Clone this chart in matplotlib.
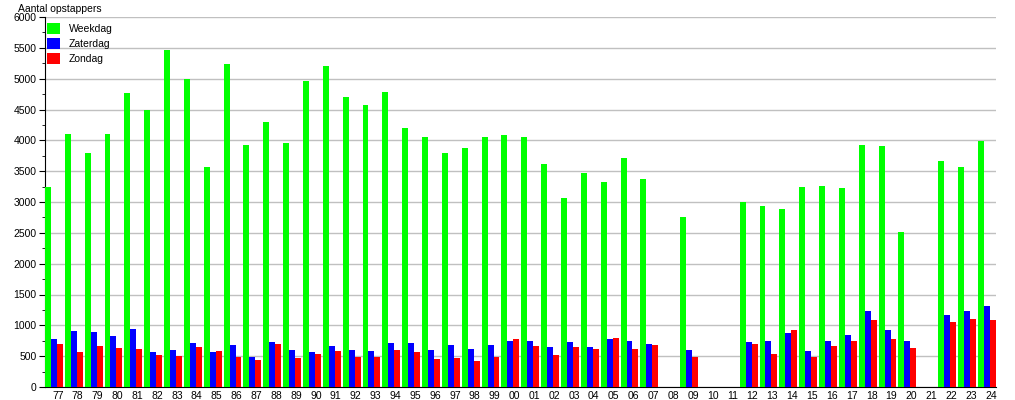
import numpy as np
import matplotlib
matplotlib.use("Agg")
import matplotlib.pyplot as plt
from matplotlib.ticker import MultipleLocator

plt.rcParams['font.family'] = ['Liberation Sans', 'DejaVu Sans']

years = ['77', '78', '79', '80', '81', '82', '83', '84', '85', '86', '87', '88',
         '89', '90', '91', '92', '93', '94', '95', '96', '97', '98', '99', '00',
         '01', '02', '03', '04', '05', '06', '07', '08', '09', '10', '11', '12',
         '13', '14', '15', '16', '17', '18', '19', '20', '21', '22', '23', '24']

nan = np.nan
weekdag = [3250, 4100, 3800, 4100, 4760, 4500, 5470, 5000, 3560, 5240, 3930, 4300,
           3950, 4970, 5200, 4700, 4580, 4780, 4200, 4060, 3800, 3870, 4060, 4080,
           4060, 3610, 3060, 3470, 3320, 3720, 3380, nan, 2750, nan, nan, 3000,
           2940, 2890, 3250, 3260, 3230, 3930, 3910, 2520, nan, 3660, 3560, 3990]
zaterdag = [780, 910, 890, 830, 940, 570, 600, 710, 570, 680, 490, 730,
            600, 570, 670, 600, 580, 710, 710, 600, 680, 620, 680, 750,
            750, 650, 730, 650, 780, 750, 700, nan, 600, nan, nan, 730,
            750, 880, 580, 750, 840, 1230, 920, 750, nan, 1170, 1230, 1310]
zondag = [700, 570, 670, 640, 620, 520, 500, 650, 580, 490, 440, 700,
          470, 540, 580, 490, 490, 600, 570, 460, 470, 420, 490, 780,
          670, 520, 650, 620, 800, 620, 680, nan, 490, nan, nan, 700,
          540, 920, 490, 670, 750, 1090, 780, 640, nan, 1050, 1100, 1090]

x = np.arange(len(years))
w = 0.3

fig = plt.figure(figsize=(10.15, 4.0), dpi=100)
ax = fig.add_axes([0.0443, 0.0325, 0.9367, 0.925])

ax.bar(x - w, weekdag, w, color='#00ff00', label='Weekdag', zorder=3)
ax.bar(x, zaterdag, w, color='#0000ff', label='Zaterdag', zorder=3)
ax.bar(x + w, zondag, w, color='#ff0000', label='Zondag', zorder=3)

ax.set_xlim(-0.45, len(years) - 0.55)
ax.set_ylim(0, 6000)
ax.yaxis.set_major_locator(MultipleLocator(500))
ax.yaxis.set_minor_locator(MultipleLocator(250))
ax.grid(axis='y', which='major', color='#c0c0c0', linewidth=1, zorder=0)

ax.set_xticks(x + 0.2)
ax.set_xticklabels(years)
ax.tick_params(axis='x', length=0, labelsize=7.5, pad=3)
ax.tick_params(axis='y', which='major', length=4, labelsize=7.5, pad=2)
ax.tick_params(axis='y', which='minor', length=2)

for s in ['top', 'right']:
    ax.spines[s].set_visible(False)
ax.spines['left'].set_color('black')
ax.spines['bottom'].set_color('black')

fig.text(0.018, 0.99, 'Aantal opstappers', fontsize=7.5, va='top', ha='left')

ax.legend(loc='upper left', bbox_to_anchor=(0.0, 0.99), frameon=False,
          fontsize=7.5, handlelength=1.25, handleheight=1.25, labelspacing=0.4,
          borderaxespad=0, borderpad=0.2, handletextpad=0.85)

fig.savefig('out.png', dpi=100)
